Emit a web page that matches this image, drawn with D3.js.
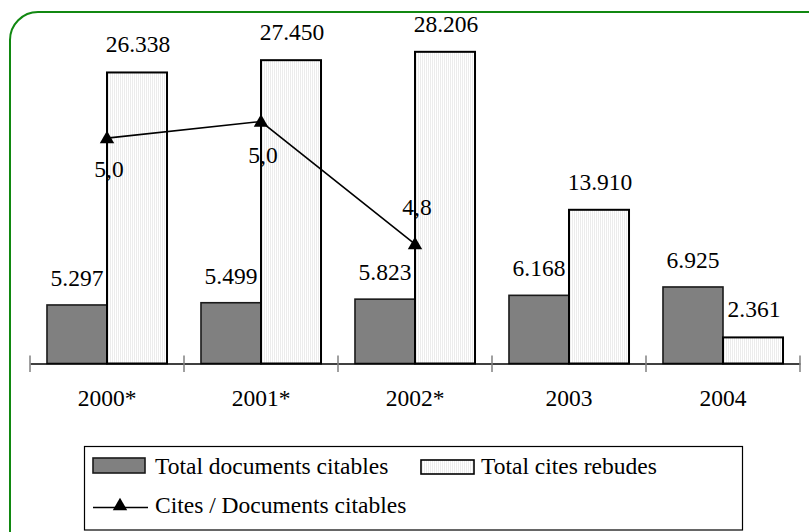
<!DOCTYPE html>
<html>
<head>
<meta charset="utf-8">
<script src="https://cdn.jsdelivr.net/npm/d3@7/dist/d3.min.js"></script>
<style>
  html, body { margin: 0; padding: 0; background: #fff; }
  svg { display: block; }
  text { font-family: "Liberation Serif", "Times New Roman", serif; fill: #000; }
</style>
</head>
<body>
<svg id="chart" width="809" height="532" font-family="Liberation Serif, serif"></svg>
<script>
// ---- data ----
const categories = ["2000*", "2001*", "2002*", "2003", "2004"];
const totalDocuments = [5297, 5499, 5823, 6168, 6925];
const totalCites = [26338, 27450, 28206, 13910, 2361];
const citesPerDocument = [4.972, 4.992, 4.844, null, null];
const seriesNames = ["Total documents citables", "Total cites rebudes", "Cites / Documents citables"];
const yDomain = [0, 30000];
const y2Domain = [4.7, 5.1];

// ---- styles ----
const lineLabelDy = [39, 41, -29];
const fontSize = 23.5;
const serif = "Liberation Serif, Times New Roman, serif";

const svg = d3.select("#chart");
const loc = d3.formatLocale({ decimal: ",", thousands: ".", grouping: [3], currency: ["", ""] });
const fmtBar = loc.format(",d");
const fmtLine = loc.format(",.1f");

// pattern for light bars
const defs = svg.append("defs");
const pat = defs.append("pattern").attr("id", "lightPat").attr("patternUnits", "userSpaceOnUse")
  .attr("width", 2).attr("height", 4);
pat.append("rect").attr("width", 2).attr("height", 4).attr("fill", "#ffffff");
pat.append("rect").attr("width", 1).attr("height", 4).attr("fill", "#ececec");

// outer green rounded border
svg.append("rect").attr("x", 10).attr("y", 12).attr("width", 830).attr("height", 560)
  .attr("rx", 28).attr("ry", 28).attr("fill", "#fff").attr("stroke", "#118811").attr("stroke-width", 2);

const baseY = 363.5, topY = 32;
const x = d3.scaleBand().domain(categories).range([30, 800]).paddingInner(0).paddingOuter(0);
const xs = d3.scaleBand().domain(["docs", "cites"]).range([0, x.bandwidth()]).paddingInner(0).paddingOuter(0.283);
const y = d3.scaleLinear().domain(yDomain).range([baseY, topY]);
const y2 = d3.scaleLinear().domain(y2Domain).range([baseY, topY]);

const g = svg.append("g");

// bars
categories.forEach((c, i) => {
  const gx = x(c);
  g.append("rect")
    .attr("x", gx + xs("docs")).attr("y", y(totalDocuments[i]))
    .attr("width", xs.bandwidth()).attr("height", baseY - y(totalDocuments[i]))
    .attr("fill", "#808080").attr("stroke", "#1a1a1a").attr("stroke-width", 1.6);
  g.append("rect")
    .attr("x", gx + xs("cites")).attr("y", y(totalCites[i]))
    .attr("width", xs.bandwidth()).attr("height", baseY - y(totalCites[i]))
    .attr("fill", "url(#lightPat)").attr("stroke", "#000").attr("stroke-width", 2);
});

// x axis
const axis = d3.axisBottom(x).tickSize(0).tickFormat(d => d);
const ax = svg.append("g").attr("transform", `translate(0,${baseY})`).call(axis)
  .attr("font-family", serif);
ax.select(".domain").attr("stroke", "#000").attr("stroke-width", 1.3);
ax.selectAll(".tick text").attr("font-size", fontSize).attr("y", 42.5).attr("dy", 0)
  .attr("font-family", serif);
const bounds = categories.map(c => x(c)).concat([x(categories[categories.length - 1]) + x.bandwidth()]);
svg.append("g").selectAll("line").data(bounds).join("line")
  .attr("x1", d => d).attr("x2", d => d).attr("y1", baseY - 8).attr("y2", baseY + 8.5)
  .attr("stroke", "#808080").attr("stroke-width", 1.5);

// bar labels
categories.forEach((c, i) => {
  const gx = x(c);
  g.append("text").attr("x", gx + xs("docs") + xs.bandwidth() / 2).attr("y", y(totalDocuments[i]) - 19)
    .attr("text-anchor", "middle").attr("font-size", fontSize).attr("font-family", serif)
    .text(fmtBar(totalDocuments[i]));
  g.append("text").attr("x", gx + xs("cites") + xs.bandwidth() / 2 + 1).attr("y", y(totalCites[i]) - 20)
    .attr("text-anchor", "middle").attr("font-size", fontSize).attr("font-family", serif)
    .text(fmtBar(totalCites[i]));
});

// line series
const pts = categories.map((c, i) => ({ c, v: citesPerDocument[i], i })).filter(d => d.v != null);
const line = d3.line().x(d => x(d.c) + x.bandwidth() / 2).y(d => y2(d.v));
svg.append("path").datum(pts).attr("d", line).attr("fill", "none").attr("stroke", "#000").attr("stroke-width", 1.6);
const tri = d3.symbol().type(d3.symbolTriangle).size(90);
svg.append("g").selectAll("path").data(pts).join("path")
  .attr("d", tri).attr("transform", d => `translate(${x(d.c) + x.bandwidth() / 2},${y2(d.v) + 1})`)
  .attr("fill", "#000");
svg.append("g").selectAll("text").data(pts).join("text")
  .attr("x", d => x(d.c) + x.bandwidth() / 2 + 2).attr("y", d => y2(d.v) + lineLabelDy[d.i])
  .attr("text-anchor", "middle").attr("font-size", fontSize).attr("font-family", serif)
  .text(d => fmtLine(d.v));

// legend
const lg = svg.append("g").attr("font-family", serif);
lg.append("rect").attr("x", 84.5).attr("y", 446.5).attr("width", 658).attr("height", 83.5)
  .attr("fill", "#fff").attr("stroke", "#000").attr("stroke-width", 1.2);
lg.append("rect").attr("x", 93).attr("y", 458).attr("width", 52).attr("height", 15)
  .attr("fill", "#808080").attr("stroke", "#1a1a1a").attr("stroke-width", 1.6);
lg.append("text").attr("x", 155).attr("y", 474).attr("font-size", fontSize).text(seriesNames[0]);
lg.append("rect").attr("x", 421).attr("y", 460).attr("width", 53).attr("height", 14)
  .attr("fill", "url(#lightPat)").attr("stroke", "#000").attr("stroke-width", 1.6);
lg.append("text").attr("x", 481).attr("y", 474).attr("font-size", fontSize).text(seriesNames[1]);
lg.append("line").attr("x1", 93).attr("x2", 148).attr("y1", 507.5).attr("y2", 507.5)
  .attr("stroke", "#000").attr("stroke-width", 1.6);
lg.append("path").attr("d", tri).attr("transform", "translate(120,506)").attr("fill", "#000");
lg.append("text").attr("x", 155).attr("y", 513).attr("font-size", fontSize).text(seriesNames[2]);
</script>
</body>
</html>
